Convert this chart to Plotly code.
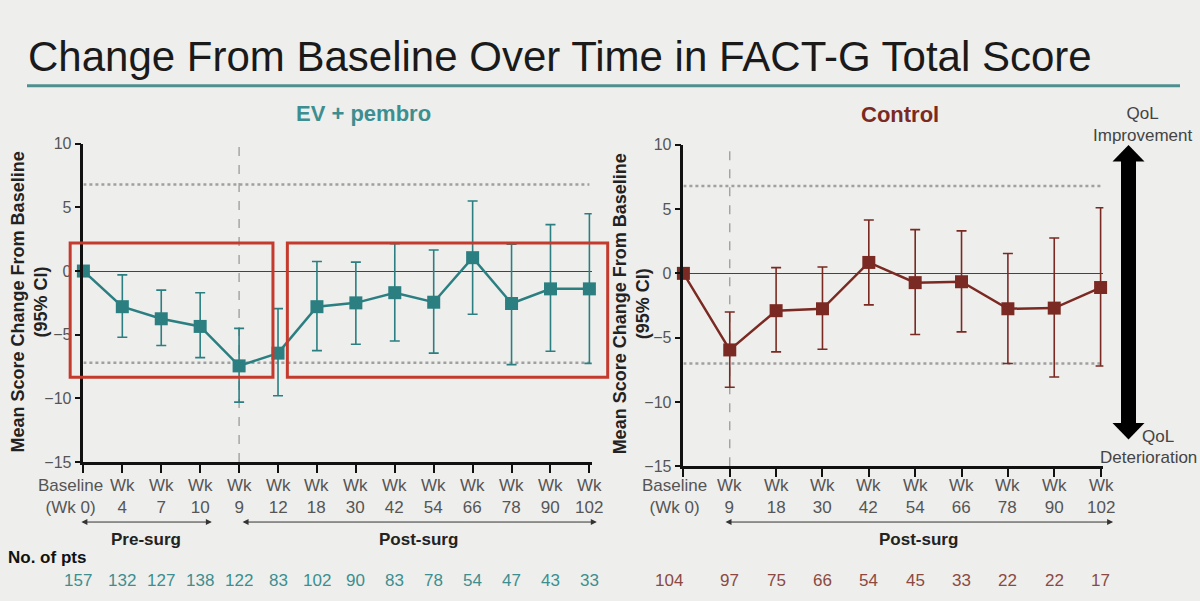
import plotly.graph_objects as go

# ---------------- data ----------------
ev_labels = ["Baseline<br>(Wk 0)", "Wk<br>4", "Wk<br>7", "Wk<br>10", "Wk<br>9", "Wk<br>12", "Wk<br>18",
             "Wk<br>30", "Wk<br>42", "Wk<br>54", "Wk<br>66", "Wk<br>78", "Wk<br>90", "Wk<br>102"]
ev_mean = [0, -2.8, -3.75, -4.35, -7.45, -6.45, -2.8, -2.5, -1.7, -2.45, 1.05, -2.55, -1.4, -1.4]
ev_upper = [0, -0.3, -1.5, -1.7, -4.5, -2.95, 0.75, 0.7, 2.15, 1.65, 5.5, 2.1, 3.65, 4.5]
ev_lower = [0, -5.2, -5.85, -6.8, -10.3, -9.8, -6.25, -5.75, -5.5, -6.45, -3.4, -7.35, -6.3, -7.25]
ev_n = [157, 132, 127, 138, 122, 83, 102, 90, 83, 78, 54, 47, 43, 33]

ctl_labels = ["Baseline<br>(Wk 0)", "Wk<br>9", "Wk<br>18", "Wk<br>30", "Wk<br>42", "Wk<br>54",
              "Wk<br>66", "Wk<br>78", "Wk<br>90", "Wk<br>102"]
ctl_mean = [0, -5.95, -2.9, -2.75, 0.85, -0.72, -0.65, -2.75, -2.7, -1.1]
ctl_upper = [0, -3.0, 0.45, 0.5, 4.15, 3.4, 3.3, 1.55, 2.75, 5.1]
ctl_lower = [0, -8.85, -6.1, -5.9, -2.45, -4.75, -4.55, -7.0, -8.05, -7.2]
ctl_n = [104, 97, 75, 66, 54, 45, 33, 22, 22, 17]

y_ticks = [-15, -10, -5, 0, 5, 10]
mid_ev = [6.8, -7.2]
mid_ctl = [6.8, -7.0]
surgery_idx_ev = 4      # Wk 9 (first post-surgery visit)
surgery_idx_ctl = 1

# ---------------- styling ----------------
W, H = 1200, 601
BG = "#eeeeec"
TEAL = "#2b7f81"
TEAL_TXT = "#3d8e90"
BROWN = "#7a2a22"
BROWN_TXT = "#8a4a42"
RED = "#c43b2d"
FONT = "Liberation Sans, Arial, sans-serif"
EPS = 0.06  # small range padding so the last error bar is not clipped

panels = {}
for key, left, right, top, bottom, n in [("ev", 83.4, 589.4, 139.7, 467.2, len(ev_labels)),
                                         ("ctl", 683.4, 1100.6, 140.7, 471.7, len(ctl_labels))]:
    step = (right - left) / (n - 1)
    panels[key] = dict(left=left, step=step, n=n,
                       xdom=(left / W, (right + EPS * step) / W),
                       xrange=(0, n - 1 + EPS),
                       ydom=(1 - bottom / H, 1 - top / H))
YR = (-15, 10)


def px2fx(p):
    return p / W


def py2fy(p):
    return 1 - p / H


def data2paper(panel, xv, yv=None):
    d = panels[panel]
    fx = (d["left"] + xv * d["step"]) / W
    if yv is None:
        return fx
    y0, y1 = d["ydom"]
    fy = y0 + (yv - YR[0]) / (YR[1] - YR[0]) * (y1 - y0)
    return fx, fy


fig = go.Figure()


def add_series(mean, upper, lower, color, xa, ya):
    xs = list(range(len(mean)))
    fig.add_trace(go.Scatter(
        x=xs, y=mean, mode="lines+markers", xaxis=xa, yaxis=ya,
        line=dict(color=color, width=2.5),
        marker=dict(symbol="square", size=13, color=color),
        error_y=dict(type="data", symmetric=False,
                     array=[u - m for u, m in zip(upper, mean)],
                     arrayminus=[m - l for m, l in zip(mean, lower)],
                     color=color, thickness=1.6, width=5),
        cliponaxis=False, showlegend=False, hoverinfo="skip"))


add_series(ev_mean, ev_upper, ev_lower, TEAL, "x", "y")
add_series(ctl_mean, ctl_upper, ctl_lower, BROWN, "x2", "y2")

axis_common = dict(showline=True, linecolor="#111", linewidth=2.5, ticks="outside",
                   tickcolor="#111", tickwidth=2, showgrid=False, mirror=False)

fig.update_layout(
    width=W, height=H, margin=dict(l=0, r=0, t=0, b=0),
    paper_bgcolor=BG, plot_bgcolor=BG, font=dict(family=FONT, color="#333"),
    xaxis=dict(domain=list(panels["ev"]["xdom"]), range=list(panels["ev"]["xrange"]), anchor="y",
               tickvals=list(range(len(ev_labels))), showticklabels=False, ticklen=8,
               zeroline=False, **axis_common),
    yaxis=dict(domain=list(panels["ev"]["ydom"]), range=list(YR), anchor="x", tickvals=y_ticks,
               ticklen=6, tickfont=dict(size=16, color="#555"), zeroline=True,
               zerolinecolor="#444", zerolinewidth=1, **axis_common),
    xaxis2=dict(domain=list(panels["ctl"]["xdom"]), range=list(panels["ctl"]["xrange"]), anchor="y2",
                tickvals=list(range(len(ctl_labels))), showticklabels=False, ticklen=8,
                zeroline=False, **axis_common),
    yaxis2=dict(domain=list(panels["ctl"]["ydom"]), range=list(YR), anchor="x2", tickvals=y_ticks,
                ticklen=6, tickfont=dict(size=16, color="#555"), zeroline=True,
                zerolinecolor="#444", zerolinewidth=1, **axis_common),
)

shapes = []
annos = []

# threshold dotted lines and surgery dashed line
for panel, xa, ya, mids, sidx in [("ev", "x", "y", mid_ev, surgery_idx_ev),
                                  ("ctl", "x2", "y2", mid_ctl, surgery_idx_ctl)]:
    n = panels[panel]["n"]
    for m in mids:
        shapes.append(dict(type="line", xref=xa, yref=ya, x0=0, x1=n - 1, y0=m, y1=m,
                           line=dict(color="#a0a0a0", width=2.5, dash="dot"), layer="below"))
    shapes.append(dict(type="line", xref=xa, yref=ya, x0=sidx, x1=sidx, y0=YR[0], y1=YR[1],
                       line=dict(color="#9a9a9a", width=1.3, dash="dash"), layer="below"))

# red highlight boxes (EV + pembro)
for xa0, xa1 in [(-0.34, 4.87), (5.24, 13.47)]:
    fx0, fy0 = data2paper("ev", xa0, -8.35)
    fx1, fy1 = data2paper("ev", xa1, 2.2)
    shapes.append(dict(type="rect", xref="paper", yref="paper", x0=fx0, x1=fx1, y0=fy0, y1=fy1,
                       line=dict(color=RED, width=3), fillcolor="rgba(0,0,0,0)", layer="above"))

# tick labels (as annotations for fine positioning)
for panel, xa, labels, base_shift in [("ev", "x", ev_labels, -13), ("ctl", "x2", ctl_labels, -9)]:
    for i, lab in enumerate(labels):
        annos.append(dict(x=i, xref=xa, y=py2fy(480), yref="paper", yanchor="top", xanchor="center",
                          text=lab, showarrow=False, font=dict(size=17, color="#555"),
                          xshift=base_shift if i == 0 else 0))

# number of patients
for panel, xa, ns, col, base_shift in [("ev", "x", ev_n, TEAL_TXT, -5), ("ctl", "x2", ctl_n, BROWN_TXT, -14)]:
    for i, v in enumerate(ns):
        annos.append(dict(x=i, xref=xa, y=py2fy(589), yref="paper", yanchor="middle", xanchor="center",
                          text=str(v), showarrow=False, font=dict(size=17, color=col),
                          xshift=base_shift if i == 0 else 0))

annos.append(dict(x=px2fx(6), y=py2fy(565), xref="paper", yref="paper", xanchor="left", yanchor="middle",
                  text="<b>No. of pts</b>", showarrow=False, font=dict(size=17, color="#111")))

# phase arrows (double-headed)
phase = [("ev", -0.09, 3.3, "Pre-surg"), ("ev", 4.05, 13.19, "Post-surg"), ("ctl", 0.876, 9.27, "Post-surg")]
for panel, a, b, label in phase:
    fa = data2paper(panel, a)
    fb = data2paper(panel, b)
    annos.append(dict(x=fb, y=py2fy(529), xref="paper", yref="paper", ax=(fa - fb) * W, ay=0,
                      axref="pixel", ayref="pixel", text="", showarrow=True, arrowhead=2,
                      arrowside="end+start", arrowsize=1.2, arrowwidth=1, arrowcolor="#333"))
    annos.append(dict(x=(fa + fb) / 2, y=py2fy(547), xref="paper", yref="paper", xanchor="center",
                      yanchor="middle", text=f"<b>{label}</b>", showarrow=False,
                      font=dict(size=17, color="#222")))

# title
annos.append(dict(x=px2fx(26), y=py2fy(50), xref="paper", yref="paper", xanchor="left", yanchor="middle",
                  text="Change From Baseline Over Time in FACT-G Total Score", showarrow=False,
                  font=dict(size=42, color="#1a1a1a")))
shapes.append(dict(type="line", xref="paper", yref="paper", x0=px2fx(27), x1=px2fx(1180),
                   y0=py2fy(80), y1=py2fy(80), line=dict(color="#4f8f90", width=3)))

# panel titles
annos.append(dict(x=px2fx(363), y=py2fy(109), xref="paper", yref="paper", xanchor="center", yanchor="middle",
                  text="<b>EV + pembro</b>", showarrow=False, font=dict(size=22, color=TEAL_TXT)))
annos.append(dict(x=px2fx(900), y=py2fy(110), xref="paper", yref="paper", xanchor="center", yanchor="middle",
                  text="<b>Control</b>", showarrow=False, font=dict(size=22, color=BROWN)))

# y-axis titles
ytitle = "<b>Mean Score Change From Baseline<br>(95% CI)</b>"
for cx, cy in [(29, 303), (631, 305)]:
    annos.append(dict(x=px2fx(cx), y=py2fy(cy), xref="paper", yref="paper", xanchor="center",
                      yanchor="middle", text=ytitle, textangle=-90, showarrow=False,
                      font=dict(size=18, color="#222")))

# QoL arrow
ax_c = 1128.5
shapes.append(dict(type="rect", xref="paper", yref="paper", x0=px2fx(ax_c - 7.5), x1=px2fx(ax_c + 7.5),
                   y0=py2fy(430), y1=py2fy(155), fillcolor="#000", line=dict(width=0)))


def tri(tip_y, base_y):
    pts = [(ax_c, tip_y), (ax_c - 16, base_y), (ax_c + 16, base_y)]
    return "M " + " L ".join(f"{px2fx(x):.5f},{py2fy(y):.5f}" for x, y in pts) + " Z"


shapes.append(dict(type="path", xref="paper", yref="paper", path=tri(141, 158), fillcolor="#000",
                   line=dict(width=0)))
shapes.append(dict(type="path", xref="paper", yref="paper", path=tri(444, 427), fillcolor="#000",
                   line=dict(width=0)))
annos.append(dict(x=px2fx(1142), y=py2fy(120), xref="paper", yref="paper", xanchor="center", yanchor="middle",
                  text="QoL<br>Improvement", showarrow=False, font=dict(size=17, color="#444")))
annos.append(dict(x=px2fx(1158), y=py2fy(441), xref="paper", yref="paper", xanchor="center", yanchor="middle",
                  text="QoL", showarrow=False, font=dict(size=17, color="#444")))
annos.append(dict(x=px2fx(1199), y=py2fy(463), xref="paper", yref="paper", xanchor="right", yanchor="middle",
                  text="Deterioration", showarrow=False, font=dict(size=17, color="#444")))

fig.update_layout(shapes=shapes, annotations=annos)
fig.write_html("out.html")
